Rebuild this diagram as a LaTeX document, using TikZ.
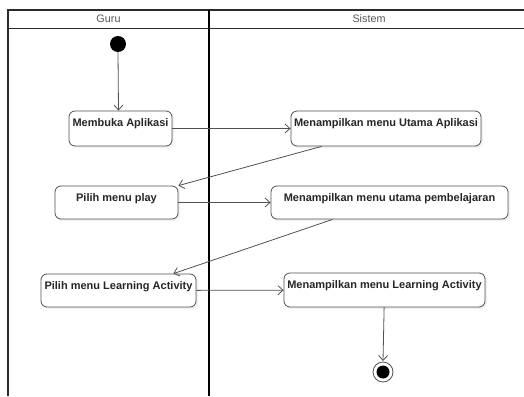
\documentclass[tikz,border=0pt]{standalone}
\usepackage{fontspec}
\setmainfont{Liberation Sans}
\usetikzlibrary{arrows.meta,calc,positioning,shadows}
\definecolor{Frame}{HTML}{2B2B2B}
\definecolor{Edge}{HTML}{505050}
\definecolor{Label}{HTML}{555555}

\tikzset{
  action/.style={draw=Edge,thick,rounded corners=6pt,fill=white,
    inner sep=0pt,text height=15pt,text depth=20pt,align=center,
    font=\fontsize{11}{13}\selectfont\bfseries,text=black!85,
    drop shadow={opacity=0.12,shadow xshift=2pt,shadow yshift=-2pt}},
  flow/.style={draw=Edge,thick,-{Straight Barb[length=5pt,width=9pt]}},
}

\begin{document}
\begin{tikzpicture}[x=1pt,y=-1pt]
    \useasboundingbox (0,0) rectangle (524,396);
    % swimlanes
    \draw[Frame,line width=1.4pt] (8,396)--(8,10)--(524,10);
    \draw[Frame,line width=1pt] (8,28.5)--(524,28.5);
    \draw[black,line width=2pt] (209,10)--(209,396);
    \node[text=Label,font=\fontsize{10.8}{12}\selectfont] (guru) at (108.5,19) {Guru};
    \node[text=Label,font=\fontsize{10.8}{12}\selectfont] (sistem) at (369,19) {Sistem};

    % start and end
    \fill[black] (118,44) circle (8pt);
    \coordinate (start) at (118,52);
    \draw[Edge,fill=white,thick] (383,372) circle (10pt);
    \fill[black] (383,372) circle (6.5pt);
    \coordinate (end) at (383,361);

    % actions
    \node[action,minimum width=103pt] (membuka) at (120.5,128.5) {Membuka Aplikasi};
    \node[action,minimum width=190pt] (utama) at (386,128.5) {Menampilkan menu Utama Aplikasi};
    \node[action,minimum width=123pt,text depth=18pt] (play) at (116.5,202.5) {Pilih menu play};
    \node[action,minimum width=237pt,text depth=18pt] (belajar) at (389.5,202.5) {Menampilkan menu utama pembelajaran};
    \node[action,minimum width=155pt,text depth=18pt] (pilihla) at (118.5,290.5) {Pilih menu Learning Activity};
    \node[action,minimum width=201pt,text depth=19pt] (tampilla) at (384.5,290) {Menampilkan menu Learning Activity};

    % transitions
    \draw[flow] (start) -- ([xshift=-2pt]membuka.north);
    \draw[flow] (membuka) -- (utama);
    \draw[flow] ([xshift=31pt]utama.south west) -- (play.north east);
    \draw[flow] (play) -- (belajar);
    \draw[flow] ([xshift=62pt]belajar.south west) -- ([xshift=-23pt]pilihla.north east);
    \draw[flow] (pilihla) -- (tampilla);
    \draw[flow] (tampilla) -- (end);
\end{tikzpicture}
\end{document}
